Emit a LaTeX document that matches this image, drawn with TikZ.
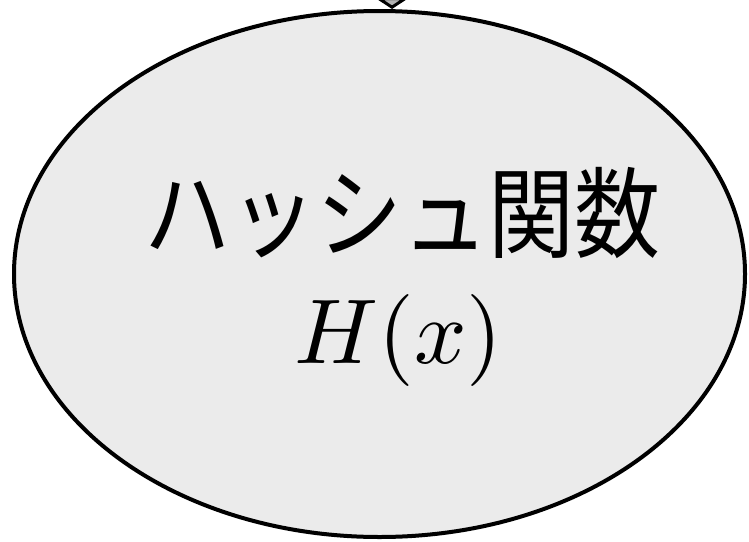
\documentclass[tikz,border=0pt]{standalone}
\usepackage{fontspec}
\newfontfamily\jpfont{Noto Sans CJK JP}
\usetikzlibrary{arrows.meta,shapes.geometric}
\tikzset{
  hashnode/.style={ellipse, draw=black, line width=4pt, fill=black!8, inner sep=0pt},
  inarrow/.style={line width=3pt, -{Triangle[width=36pt,length=12pt,fill=black!30]}}
}
\begin{document}
\begin{tikzpicture}[x=1pt,y=-1pt]
\useasboundingbox (0,0) rectangle (749,541);
\node[hashnode, minimum width=731pt, minimum height=526pt] (ell) at (379.5,274) {};
\node[anchor=base, inner sep=0pt] (jp) at (402,250) {\scalebox{1}[1.15]{\jpfont\fontsize{86}{86}\selectfont ハッシュ関数}};
\node[anchor=base, inner sep=0pt] (hx) at (398.5,363) {\scalebox{9.2}{$H(x)$}};
\coordinate (src) at (392,-60);
\draw[inarrow] (src) -- (src |- ell.north);
\end{tikzpicture}
\end{document}
